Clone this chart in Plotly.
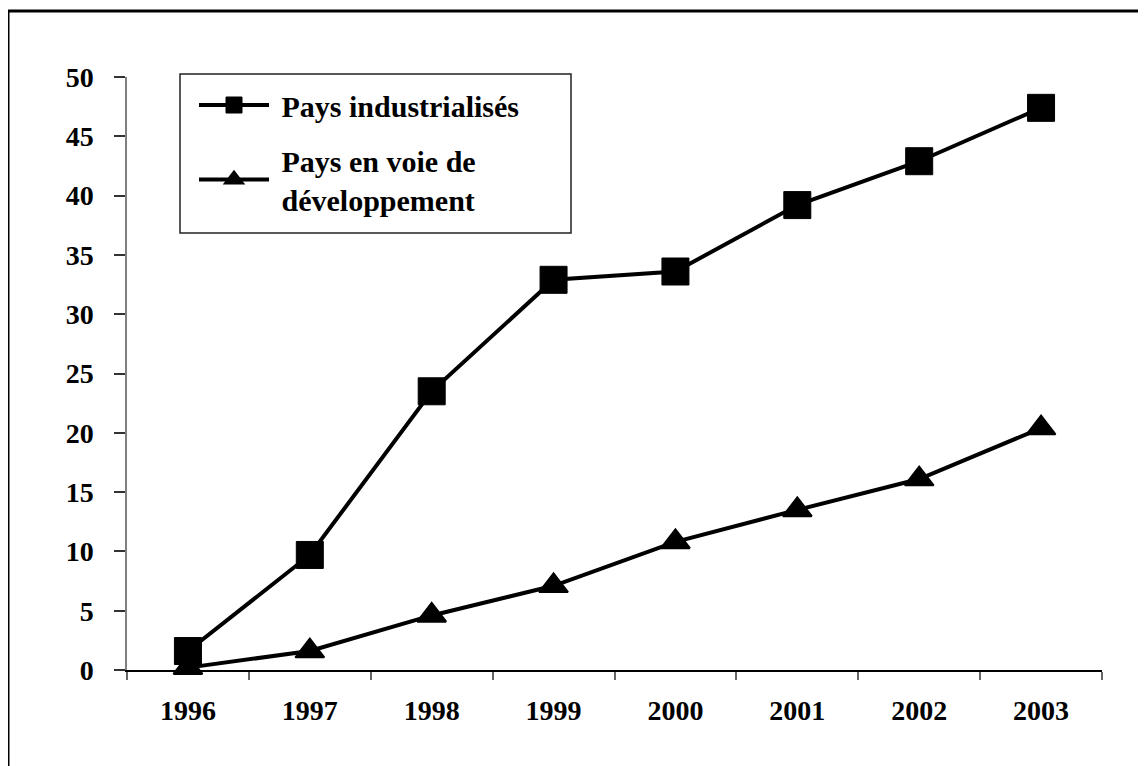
import plotly.graph_objects as go

years = ["1996", "1997", "1998", "1999", "2000", "2001", "2002", "2003"]
industrialises = [1.6, 9.7, 23.5, 32.9, 33.6, 39.2, 42.9, 47.4]
developpement = [0.2, 1.6, 4.6, 7.1, 10.8, 13.5, 16.1, 20.4]
y_ticks = [0, 5, 10, 15, 20, 25, 30, 35, 40, 45, 50]

FONT = "Liberation Serif"
NB = "\u00a0"

# page body has an 8px margin: compensate so the plot lands where intended
OFF = 8
W, H = 1146 - OFF, 766 - OFF
L, T = 127 - OFF, 77 - OFF
PW, PH = 975, 593


def px_x(px):
    return (px - 127) / PW


def px_y(py):
    return (670 - py) / PH


fig = go.Figure()
fig.add_trace(go.Scatter(
    x=years, y=industrialises, name=NB + "Pays industrialisés",
    legendgroup="a",
    mode="lines+markers",
    line=dict(color="black", width=4),
    marker=dict(symbol="square", size=27, color="black", line=dict(color="black", width=1)),
    cliponaxis=False,
))
fig.add_trace(go.Scatter(
    x=years, y=developpement, name=NB + "Pays en voie de<br>" + NB + "développement",
    legendgroup="b",
    mode="lines+markers",
    line=dict(color="black", width=4),
    marker=dict(symbol="triangle-up", size=25, color="black", line=dict(color="black", width=2)),
    cliponaxis=False,
))

fig.update_layout(
    width=W, height=H,
    margin=dict(l=L, r=W - L - PW, t=T, b=H - T - PH),
    paper_bgcolor="white", plot_bgcolor="white",
    font=dict(family=FONT, size=28, color="black"),
    showlegend=True,
    legend=dict(
        x=px_x(194), y=px_y(79), xanchor="left", yanchor="top",
        bgcolor="rgba(0,0,0,0)", borderwidth=0,
        font=dict(family=FONT, size=30, color="black", weight="bold"),
        itemwidth=70, tracegroupgap=13,
    ),
    xaxis=dict(
        type="category", range=[-0.5, 7.5],
        showline=True, linecolor="black", linewidth=1.5,
        ticks="outside", ticklen=8, tickcolor="#666666", tickwidth=1.5,
        tickson="boundaries",
        showgrid=False, zeroline=False,
        tickfont=dict(family=FONT, size=28, color="black", weight="bold"),
        ticklabelstandoff=15,
    ),
    yaxis=dict(
        range=[0, 50], tickvals=y_ticks,
        showline=True, linecolor="#808080", linewidth=1.5,
        ticks="outside", ticklen=11, tickcolor="#333333", tickwidth=1.5,
        showgrid=False, zeroline=False,
        tickfont=dict(family=FONT, size=28, color="black", weight="bold"),
        ticklabelstandoff=15,
    ),
    shapes=[
        dict(
            type="rect", xref="paper", yref="paper",
            x0=px_x(8), x1=px_x(1170), y0=px_y(790), y1=px_y(11),
            line=dict(color="black", width=3), fillcolor="rgba(0,0,0,0)",
            layer="below",
        ),
        dict(
            type="rect", xref="paper", yref="paper",
            x0=px_x(180), x1=px_x(571), y0=px_y(233), y1=px_y(74),
            line=dict(color="#222222", width=1.5), fillcolor="white",
            layer="below",
        ),
    ],
)

fig.write_html("out.html")
